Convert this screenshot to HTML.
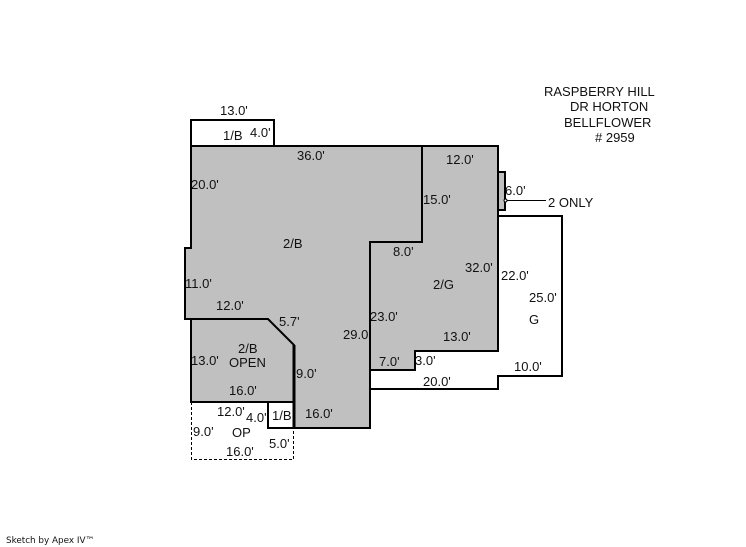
<!DOCTYPE html>
<html>
<head>
<meta charset="utf-8">
<style>
html,body{margin:0;padding:0;background:#fff;width:746px;height:547px;overflow:hidden}
svg{display:block}
text{font-family:"Liberation Sans",Arial,sans-serif;font-size:13px;fill:#111}
</style>
</head>
<body>
<svg width="746" height="547" viewBox="0 0 746 547" xmlns="http://www.w3.org/2000/svg">
<rect width="746" height="547" fill="#fff"/>
<!-- gray fill -->
<path d="M191 146H498V351H415V370H370V428H294V345L268 319H185V248H191Z" fill="#c0c0c0"/>
<path d="M498 172H505V210H498Z" fill="#c0c0c0"/>
<path d="M191 319H268L294 345V402H191Z" fill="#c0c0c0"/>
<!-- dashed OP -->
<path d="M191.5 402V459.5H293.5V428" fill="none" stroke="#000" stroke-width="1" stroke-dasharray="3 2"/>
<g fill="none" stroke="#000" stroke-width="2">
<path d="M191 146V120H274V146"/>
<path d="M191 146H498V351H415V370H370V428H294V345L268 319H185V248H191Z"/>
<path d="M422 146V242H370V370"/>
<path d="M191 319V402H294"/>
<path d="M268 402V428H294"/>
<path d="M498 172H505V210H498"/>
<path d="M498 216H562V376H498V389H370"/>
</g>
<path d="M294 345V428" stroke="#000" stroke-width="3" fill="none"/>
<path d="M505 200.5H546" stroke="#000" stroke-width="1"/>
<circle cx="505.5" cy="200.5" r="1.5" fill="#fff" stroke="#000" stroke-width="1"/>
<text x="220" y="115">13.0'</text>
<text x="223" y="140">1/B</text>
<text x="250" y="137">4.0'</text>
<text x="297" y="160">36.0'</text>
<text x="191" y="189">20.0'</text>
<text x="283" y="248">2/B</text>
<text x="446" y="164">12.0'</text>
<text x="423" y="204">15.0'</text>
<text x="505" y="195">6.0'</text>
<text x="548" y="207">2 ONLY</text>
<text x="393" y="256">8.0'</text>
<text x="465" y="272">32.0'</text>
<text x="501" y="280">22.0'</text>
<text x="433" y="289">2/G</text>
<text x="185" y="288">11.0'</text>
<text x="216" y="310">12.0'</text>
<text x="529" y="302">25.0'</text>
<text x="529" y="324">G</text>
<text x="370" y="321">23.0'</text>
<text x="279" y="326">5.7'</text>
<text x="443" y="341">13.0'</text>
<text x="343" y="339">29.0</text>
<text x="238" y="353">2/B</text>
<text x="229" y="367">OPEN</text>
<text x="191" y="365">13.0'</text>
<text x="379" y="366">7.0'</text>
<text x="415" y="365">3.0'</text>
<text x="296" y="378">9.0'</text>
<text x="514" y="371">10.0'</text>
<text x="423" y="386">20.0'</text>
<text x="229" y="395">16.0'</text>
<text x="217" y="416">12.0'</text>
<text x="246" y="422">4.0'</text>
<text x="272" y="420">1/B</text>
<text x="305" y="418">16.0'</text>
<text x="193" y="436">9.0'</text>
<text x="232" y="437">OP</text>
<text x="269" y="448">5.0'</text>
<text x="226" y="456">16.0'</text>
<text x="544" y="96">RASPBERRY HILL</text>
<text x="570" y="111">DR HORTON</text>
<text x="564" y="127">BELLFLOWER</text>
<text x="595" y="142"># 2959</text>
<text x="6" y="543" style="font-size:8.8px;font-family:'DejaVu Sans',sans-serif">Sketch by Apex IV™</text>
</svg>
</body>
</html>
